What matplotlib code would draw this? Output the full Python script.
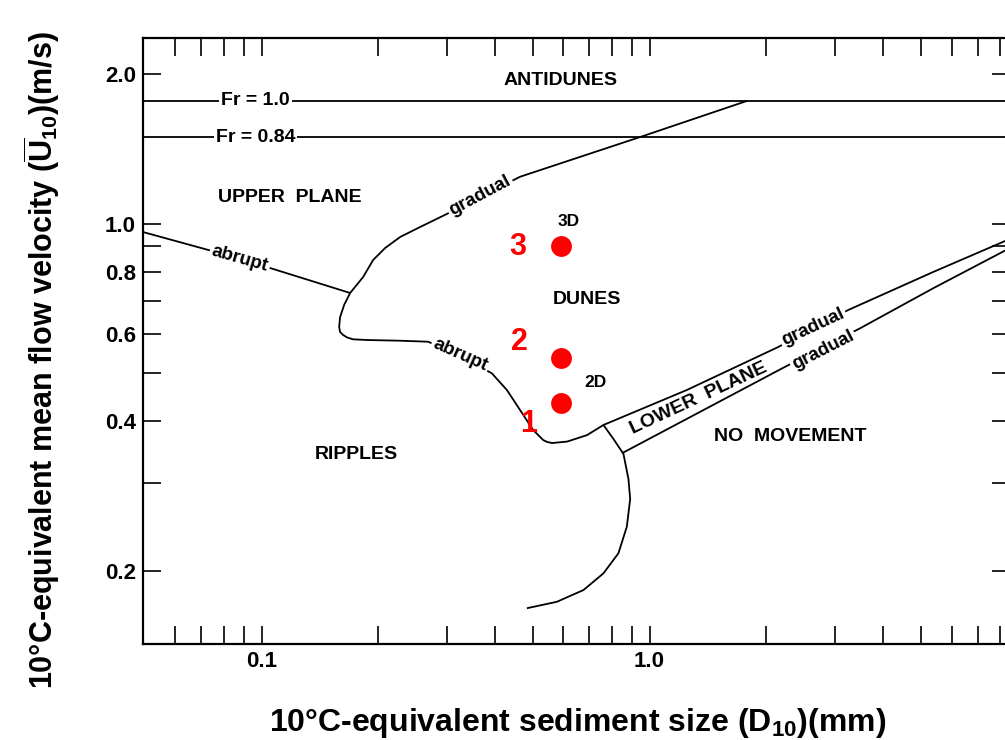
"""
Bedform phase diagram: 10 deg C-equivalent flow velocity vs sediment size,
with the three experimental runs marked in red.
"""

import matplotlib
matplotlib.use("Agg")  # headless: write the file, never open a window
import matplotlib.pyplot as plt

plt.rcParams.update({
    "font.family": "Liberation Sans",
    "font.weight": "bold",
    "mathtext.default": "regular",
})

# Boundary between dunes and ripples / upper plane / lower plane (D10 mm, U10 m/s)
dune_d = [1.781, 0.946, 0.4638, 0.3002, 0.2563, 0.2276, 0.2083, 0.1939, 0.1827,
          0.1692, 0.1633, 0.1594, 0.1585, 0.1594, 0.1623, 0.1662, 0.1722, 0.1871,
          0.2276, 0.2688, 0.3249, 0.3923, 0.4288, 0.4638, 0.5012, 0.5319, 0.5446,
          0.5610, 0.6135, 0.6904, 0.7606, 1.248, 2.145, 3.251, 5.382, 8.49]
dune_u = [1.767, 1.495, 1.2433, 1.046, 0.9848, 0.9401, 0.8935, 0.8449, 0.7807,
          0.7251, 0.6862, 0.6486, 0.6193, 0.6050, 0.5967, 0.5899, 0.5849, 0.5830,
          0.5811, 0.5784, 0.5414, 0.4995, 0.4624, 0.4213, 0.3840, 0.3666, 0.3633,
          0.3615, 0.3640, 0.3751, 0.3931, 0.4624, 0.5643, 0.6701, 0.7993, 0.932]

# Upper plane / ripples boundary
abrupt_d = [0.0495, 0.0886, 0.1692]
abrupt_u = [0.962, 0.849, 0.7251]

# Lower edge of the lower-plane band
lower_d = [0.8485, 2.207, 3.489, 5.382, 8.49]
lower_u = [0.3447, 0.5122, 0.6157, 0.7412, 0.8935]

# Ripples / no movement boundary
nomove_d = [0.7606, 0.807, 0.8565, 0.8822, 0.8913, 0.8739, 0.8313, 0.7606,
            0.6756, 0.5770, 0.4829]
nomove_u = [0.3931, 0.3684, 0.3437, 0.3060, 0.2789, 0.2453, 0.2168, 0.1975,
            0.1828, 0.1731, 0.1680]

# Froude number lines
fr_values = ["1.0", "0.84"]
fr_u = [1.767, 1.493]

# Experimental runs
run_labels = ["1", "2", "3"]
run_d = [0.59, 0.59, 0.59]
run_u = [0.435, 0.537, 0.902]

x_ticks = [0.06, 0.07, 0.08, 0.09, 0.1, 0.2, 0.3, 0.4, 0.5, 0.6, 0.7, 0.8, 0.9,
           1.0, 2, 3, 4, 5, 6, 7, 8]
x_labels = {0.1: "0.1", 1.0: "1.0"}
y_ticks = [0.2, 0.3, 0.4, 0.5, 0.6, 0.7, 0.8, 0.9, 1.0, 2.0]
y_labels = {0.2: "0.2", 0.4: "0.4", 0.6: "0.6", 0.8: "0.8", 1.0: "1.0", 2.0: "2.0"}

fig = plt.figure(figsize=(10.05, 7.4), dpi=100)
ax = fig.add_axes([0.1423, 0.1297, 0.8627, 0.8189])
ax.set_xscale("log")
ax.set_yscale("log")
ax.set_xlim(0.0495, 8.49)
ax.set_ylim(0.1423, 2.366)

line = dict(color="black", lw=1.3, solid_capstyle="butt", solid_joinstyle="round")
ax.plot(dune_d, dune_u, **line)
ax.plot(abrupt_d, abrupt_u, **line)
ax.plot(lower_d, lower_u, **line)
ax.plot(nomove_d, nomove_u, **line)
for u in fr_u:
    ax.axhline(u, **line)

white = dict(facecolor="white", edgecolor="none", pad=1.5)


def label(x, y, s, size=14, rot=0, box=False):
    ax.text(x, y, s, ha="center", va="center", fontsize=size, rotation=rot,
            rotation_mode="anchor", bbox=white if box else None, zorder=3)


for v, u in zip(fr_values, fr_u):
    label(0.0965, u, f"Fr = {v}", box=True)

label(0.088, 0.851, "abrupt", 13.5, -16, box=True)
label(0.366, 1.137, "gradual", 13.5, 28, box=True)
label(0.325, 0.543, "abrupt", 13.5, -24, box=True)
label(2.637, 0.619, "gradual", 13.5, 25, box=True)
label(2.80, 0.556, "gradual", 13.5, 27, box=True)

label(0.588, 1.947, "ANTIDUNES")
label(0.118, 1.127, "UPPER  PLANE")
label(0.69, 0.702, "DUNES")
label(0.176, 0.3424, "RIPPLES")
label(2.30, 0.3723, "NO  MOVEMENT")
label(1.341, 0.4448, "LOWER  PLANE", rot=25)
label(0.6205, 1.008, "3D", 12.5)
label(0.7243, 0.4776, "2D", 12.5)

# runs: red dots with their numbers to the left
ax.plot(run_d, run_u, "o", color="#ff0000", ms=15, mec="none", zorder=4)
for s, x, y in zip(run_labels, [0.4866, 0.4612, 0.4584], [0.3949, 0.5764, 0.8956]):
    ax.text(x, y, s, color="#ff0000", fontsize=22, ha="center", va="center", zorder=4)

ax.set_xticks(x_ticks, labels=[x_labels.get(t, "") for t in x_ticks])
ax.set_yticks(y_ticks, labels=[y_labels.get(t, "") for t in y_ticks])
ax.minorticks_off()
ax.tick_params(direction="in", length=13, width=1.2, top=True, right=True,
               labelsize=16, pad=5)
for sp in ax.spines.values():
    sp.set_linewidth(1.6)

fig.text(577.5 / 1005, 1 - 731 / 740,
         "10°C-equivalent sediment size (D$_{10}$)(mm)",
         ha="center", va="baseline", fontsize=23)
fig.text(53 / 1005, 1 - 360 / 740,
         "10°C-equivalent mean flow velocity ($\\overline{U}_{10}$)(m/s)",
         rotation=90, rotation_mode="anchor", ha="center", va="baseline",
         fontsize=22)

fig.savefig("out.png", dpi=100)
plt.close(fig)
